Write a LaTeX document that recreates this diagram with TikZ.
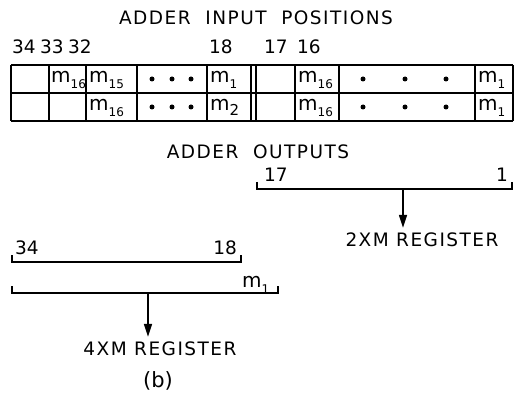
\documentclass[tikz,border=0pt]{standalone}
\usepackage{fontspec}
\setmainfont{DejaVu Sans}
\newfontfamily\lbl[LetterSpace=8]{DejaVu Sans}
\usetikzlibrary{arrows.meta}
\newcommand{\msub}[1]{m\raisebox{-0.3em}{\fontsize{12}{12}\selectfont #1}}
\begin{document}
\begin{tikzpicture}[x=1pt,y=-1pt,
  lab/.style={font=\lbl\fontsize{18.5}{20}\selectfont, inner sep=0pt},
  num/.style={font=\fontsize{18.5}{20}\selectfont, inner sep=0pt, anchor=base west},
  numr/.style={num, anchor=base east},
  cell/.style={font=\fontsize{20}{22}\selectfont, inner sep=0pt, anchor=base west},
  gridln/.style={line width=1.6pt},
  brk/.style={line width=1.6pt},
  arr/.style={line width=1.6pt, shorten >=5pt, -{Triangle[length=13pt,width=8pt]}},
  bdot/.style={circle, fill, inner sep=0pt, minimum size=5pt}]
\useasboundingbox (0,0) rectangle (516,403);

% title
\node[lab] (title) at (256,18) {ADDER\ \ INPUT\ \ POSITIONS};

% position numbers
\node[num] (n34) at (12,54) {34};
\node[num] (n33) at (40,54) {33};
\node[num] (n32) at (68,54) {32};
\node[num] (n18) at (209,54) {18};
\node[num] (n17) at (264,54) {17};
\node[num] (n16) at (297,54) {16};

% table grid
\foreach \y in {65,93,121} \draw[gridln] (11,\y) -- (513,\y);
\foreach \x in {11,49,86,137,207,251,256,295,339,475,513}
  \draw[gridln] (\x,65) -- (\x,121);

% row 1
\node[cell] (r1a) at (51,83) {\msub{16}};
\node[cell] (r1b) at (89,83) {\msub{15}};
\node[cell] (r1c) at (210,83) {\msub{1}};
\node[cell] (r1d) at (298,83) {\msub{16}};
\node[cell] (r1e) at (478,83) {\msub{1}};
% row 2
\node[cell] (r2b) at (89,111) {\msub{16}};
\node[cell] (r2c) at (210,111) {m\raisebox{-0.25em}{\fontsize{15}{15}\selectfont 2}};
\node[cell] (r2d) at (298,111) {\msub{16}};
\node[cell] (r2e) at (478,111) {\msub{1}};

% dots
\foreach \y [count=\r] in {79,107} {
  \foreach \x [count=\i] in {152,172,191,363,405,446}
    \node[bdot] (d\r-\i) at (\x,\y) {};
}

% outputs
\node[lab] (out) at (258,152) {ADDER\ \ OUTPUTS};

% 2XM bracket
\draw[brk] (257,182) -- (257,189) -- (512,189) -- (512,182);
\node[num] (o17) at (264,182) {17};
\node[numr] (o1) at (508,182) {1};
\coordinate (b2) at (403,189);
\node[lab] (reg2) at (422,240) {2XM REGISTER};
\draw[arr] (b2) -- (b2 |- reg2.north);

% 34..18 bracket
\draw[brk] (12,255) -- (12,262) -- (241,262) -- (241,255);
\node[num] (p34) at (15,254) {34};
\node[numr] (p18) at (237,254) {18};

% m1 bracket
\draw[brk] (12,286) -- (12,293) -- (278,293) -- (278,286);
\node[cell] (pm1) at (242,287) {\msub{1}};
\coordinate (b4) at (148,293);
\node[lab] (reg4) at (160,349) {4XM REGISTER};
\draw[arr] (b4) -- (b4 |- reg4.north);

\node[font=\fontsize{21}{23}\selectfont, inner sep=0pt] (cap) at (158,381) {(b)};
\end{tikzpicture}
\end{document}
